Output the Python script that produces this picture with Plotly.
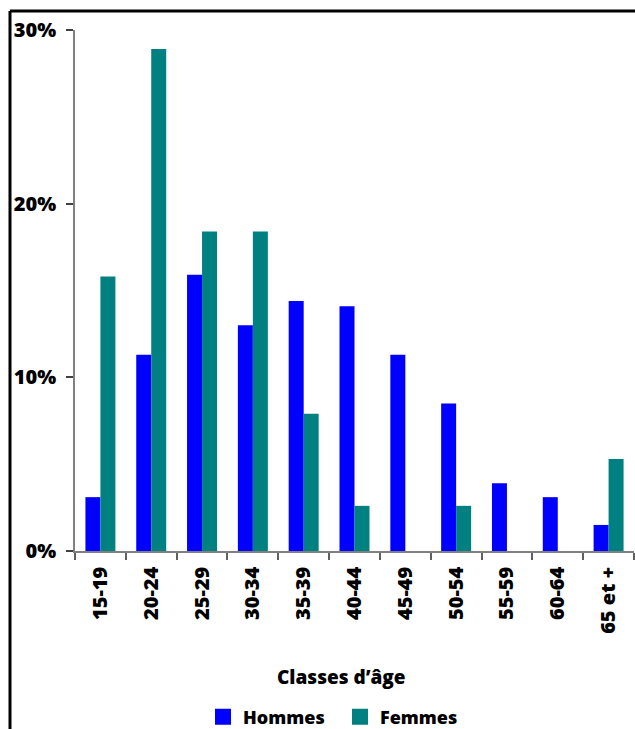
import plotly.graph_objects as go

categories = ["15-19", "20-24", "25-29", "30-34", "35-39", "40-44",
              "45-49", "50-54", "55-59", "60-64", "65 et +"]
hommes = [3.1, 11.3, 15.9, 13.0, 14.4, 14.1, 11.3, 8.5, 3.9, 3.1, 1.5]
femmes = [15.8, 28.9, 18.4, 18.4, 7.9, 2.6, 0.0, 2.6, 0.0, 0.0, 5.3]
y_ticks = [0, 10, 20, 30]
y_tick_labels = ["0%", "10%", "20%", "30%"]
series_names = ["Hommes", "Femmes"]
series_colors = ["#0000FF", "#008080"]

FONT = "Open Sans"
W, H = 635, 729
# plot area in page pixels
PL, PR, PT, PB = 75, 634, 30, 551
ML, MR, MT, MB = PL, W - PR, PT, H - PB
pw = W - ML - MR
ph = H - MT - MB

fig = go.Figure()
for name, vals, col in zip(series_names, [hommes, femmes], series_colors):
    fig.add_trace(go.Bar(name=name, x=categories, y=vals, showlegend=False,
                         marker=dict(color=col, line=dict(width=0))))
# legend entries with larger square keys
for name, col in zip(series_names, series_colors):
    fig.add_trace(go.Scatter(name=name, x=[None], y=[None], mode="markers",
                             marker=dict(symbol="square", size=16, color=col),
                             showlegend=True))

def px_x(x):
    return (x - PL) / pw

def px_y(y):
    return (PB - y) / ph

fig.update_layout(
    width=W, height=H,
    margin=dict(l=ML, r=MR, t=MT, b=MB, autoexpand=False),
    paper_bgcolor="white", plot_bgcolor="white",
    barmode="group", bargap=0.41, bargroupgap=0,
    showlegend=True,
    legend=dict(orientation="h", x=px_x(340), xanchor="center",
                y=px_y(717), yanchor="middle", itemsizing="trace",
                font=dict(family=FONT, size=18, color="black", weight=800),
                entrywidth=92, entrywidthmode="pixels"),
    font=dict(family=FONT, color="black"),
    xaxis=dict(type="category", showline=True, linecolor="#808080", linewidth=1.5,
               ticks="outside", ticklen=7, tickcolor="#606060", tickwidth=1.5,
               tickson="boundaries", tickangle=-90, showgrid=False,
               ticklabelstandoff=6,
               tickfont=dict(family=FONT, size=20, color="black", weight=800)),
    yaxis=dict(range=[0, 30], tickvals=y_ticks, ticktext=y_tick_labels,
               showline=True, linecolor="#808080", linewidth=1.5,
               ticks="outside", ticklen=7, tickcolor="#404040", tickwidth=1.5,
               showgrid=False, zeroline=False, ticklabelstandoff=6,
               tickfont=dict(family=FONT, size=20, color="black", weight=800)),
    annotations=[
        dict(text="Classes d’âge", xref="paper", yref="paper",
             x=px_x(341), y=px_y(677), xanchor="center", yanchor="middle",
             showarrow=False,
             font=dict(family=FONT, size=19, color="black", weight=800)),
    ],
    shapes=[
        dict(type="line", xref="paper", yref="paper",
             x0=px_x(10), x1=px_x(640), y0=px_y(11), y1=px_y(11),
             line=dict(color="black", width=3)),
        dict(type="line", xref="paper", yref="paper",
             x0=px_x(10), x1=px_x(10), y0=px_y(11), y1=px_y(740),
             line=dict(color="black", width=3)),
    ],
)

fig.write_html("out.html", config={"displayModeBar": False},
               post_script="document.body.style.margin='0';document.body.style.overflow='hidden';")
